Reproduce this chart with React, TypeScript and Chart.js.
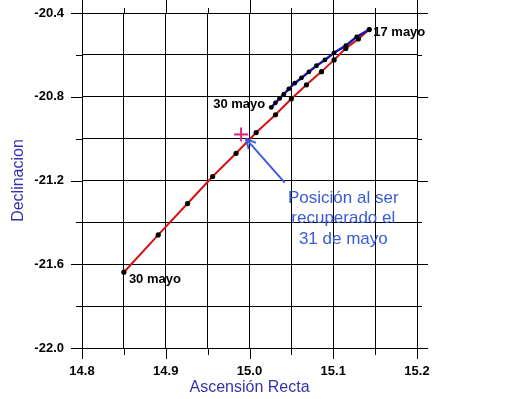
import React, { useEffect, useRef } from "react";
import { Chart, registerables } from "chart.js";

Chart.register(...registerables);

// Tick labels
const xTickLabels = ["14.8", "14.9", "15.0", "15.1", "15.2"];
const yTickLabels = ["-22.0", "-21.6", "-21.2", "-20.8", "-20.4"];

// Trajectory A (red), 17 mayo -> 30 mayo
const redRA = [15.143, 15.130, 15.115, 15.101, 15.086, 15.068, 15.050, 15.031, 15.008, 14.984, 14.956, 14.926, 14.891, 14.850];
const redDec = [-20.479, -20.524, -20.569, -20.624, -20.680, -20.743, -20.810, -20.886, -20.971, -21.070, -21.181, -21.310, -21.460, -21.638];

// Trajectory B (blue), 17 mayo -> 30 mayo
const blueRA = [15.143, 15.128, 15.115, 15.101, 15.090, 15.080, 15.071, 15.062, 15.054, 15.047, 15.041, 15.036, 15.031, 15.026];
const blueDec = [-20.479, -20.514, -20.556, -20.590, -20.624, -20.652, -20.681, -20.710, -20.735, -20.762, -20.788, -20.808, -20.829, -20.851];

// Recovery position (31 de mayo)
const recoveryRA = 14.990;
const recoveryDec = -20.98;
const arrowFrom = [15.042, -21.21];
const arrowTo = [14.9956, -21.0];
const noteAnchor = [15.112, -20.4];
const noteLines = ["Posición al ser", "recuperado el", "31 de mayo"];

const FONT = "'Liberation Sans', Arial, sans-serif";

export default function App() {
  const ref = useRef<HTMLCanvasElement>(null);

  useEffect(() => {
    document.body.style.margin = "0";
    const canvas = ref.current!;
    const extras = {
      id: "extras",
      afterDraw(chart: any) {
        const { ctx, chartArea, scales } = chart;
        const { left, right, top, bottom } = chartArea;
        const xs = scales.x;
        const ys = scales.y;
        ctx.save();
        ctx.strokeStyle = "#000";
        ctx.lineWidth = 1;
        const seg = (x1: number, y1: number, x2: number, y2: number) => {
          ctx.beginPath();
          ctx.moveTo(x1, y1);
          ctx.lineTo(x2, y2);
          ctx.stroke();
        };
        xs.ticks.forEach((t: any, i: number) => {
          const px = Math.round(xs.getPixelForValue(t.value)) + 0.5;
          const major = i % 2 === 0;
          seg(px, bottom, px, bottom + (major ? 11 : 7));
          seg(px, top, px, top - (major ? 13 : 5));
        });
        ys.ticks.forEach((t: any, i: number) => {
          const py = Math.round(ys.getPixelForValue(t.value)) + 0.5;
          const major = i % 2 === 0;
          seg(left - (major ? 11 : 6), py, left, py);
          seg(right, py, right + (major ? 11 : 5), py);
        });

        // date labels
        ctx.fillStyle = "#000";
        ctx.font = "bold 13px " + FONT;
        ctx.textBaseline = "middle";
        const p17x = xs.getPixelForValue(redRA[0]);
        const p17y = ys.getPixelForValue(redDec[0]);
        ctx.textAlign = "left";
        ctx.fillText("17 mayo", p17x + 4, p17y + 3);
        const pbx = xs.getPixelForValue(blueRA[blueRA.length - 1]);
        const pby = ys.getPixelForValue(blueDec[blueDec.length - 1]);
        ctx.textAlign = "right";
        ctx.fillText("30 mayo", pbx - 6, pby - 3);
        const prx = xs.getPixelForValue(redRA[redRA.length - 1]);
        const pry = ys.getPixelForValue(redDec[redDec.length - 1]);
        ctx.textAlign = "left";
        ctx.fillText("30 mayo", prx + 5, pry + 7.5);

        // recovery cross
        const cx = xs.getPixelForValue(recoveryRA);
        const cy = ys.getPixelForValue(recoveryDec);
        ctx.strokeStyle = "#e0207a";
        ctx.lineWidth = 2;
        seg(cx - 7, cy, cx + 7, cy);
        seg(cx, cy - 7, cx, cy + 7);

        // arrow
        const ax1 = xs.getPixelForValue(arrowFrom[0]);
        const ay1 = ys.getPixelForValue(arrowFrom[1]);
        const ax2 = xs.getPixelForValue(arrowTo[0]);
        const ay2 = ys.getPixelForValue(arrowTo[1]);
        ctx.strokeStyle = "#3a5de0";
        ctx.lineWidth = 2;
        seg(ax1, ay1, ax2, ay2);
        const ang = Math.atan2(ay2 - ay1, ax2 - ax1);
        const hl = 11;
        seg(ax2, ay2, ax2 - hl * Math.cos(ang - 0.45), ay2 - hl * Math.sin(ang - 0.45));
        seg(ax2, ay2, ax2 - hl * Math.cos(ang + 0.45), ay2 - hl * Math.sin(ang + 0.45));

        // note
        ctx.fillStyle = "#3a5bd9";
        ctx.font = "17px " + FONT;
        ctx.textAlign = "center";
        const nx = xs.getPixelForValue(noteAnchor[0]);
        noteLines.forEach((l, i) => {
          ctx.fillText(l, nx, 198 + i * 20.5);
        });
        ctx.restore();
      },
    };

    const chart = new Chart(canvas, {
      type: "scatter",
      data: {
        datasets: [
          {
            data: blueRA.map((x, i) => ({ x, y: blueDec[i] })),
            showLine: true,
            borderColor: "#1818a8",
            borderWidth: 2.5,
            pointRadius: 2.4,
            pointBackgroundColor: "#000",
            pointBorderColor: "#000",
            pointBorderWidth: 0,
          },
          {
            data: redRA.map((x, i) => ({ x, y: redDec[i] })),
            showLine: true,
            borderColor: "#d41010",
            borderWidth: 2,
            pointRadius: 2.6,
            pointBackgroundColor: "#000",
            pointBorderColor: "#000",
            pointBorderWidth: 0,
          },
        ],
      },
      options: {
        responsive: false,
        animation: false,
        devicePixelRatio: 1,
        layout: { padding: { top: 13, right: 98, left: 0, bottom: 0 } },
        plugins: { legend: { display: false }, tooltip: { enabled: false } },
        scales: {
          x: {
            type: "linear",
            min: 14.8,
            max: 15.2,
            ticks: {
              stepSize: 0.05,
              autoSkip: false,
              maxRotation: 0,
              padding: 16,
              color: "#000",
              font: { family: FONT, size: 13, weight: "bold" },
              callback: (_v: any, i: number) => (i % 2 === 0 ? xTickLabels[i / 2] : ""),
            },
            grid: { color: "#000", lineWidth: 1, drawTicks: false },
            border: { color: "#000" },
            title: {
              display: true,
              text: "Ascensión Recta",
              color: "#3333b0",
              font: { family: FONT, size: 16 },
              padding: { top: 0, bottom: 2 },
            },
            afterFit(s: any) {
              s.height = 51;
              s.paddingLeft = 0;
              s.paddingRight = 0;
            },
          },
          y: {
            type: "linear",
            min: -22.0,
            max: -20.4,
            ticks: {
              stepSize: 0.2,
              autoSkip: false,
              padding: 18,
              color: "#000",
              font: { family: FONT, size: 13, weight: "bold" },
              callback: (_v: any, i: number) => (i % 2 === 0 ? yTickLabels[i / 2] : ""),
            },
            grid: { color: "#000", lineWidth: 1, drawTicks: false },
            border: { color: "#000" },
            title: {
              display: true,
              text: "Declinacion",
              color: "#3333b0",
              font: { family: FONT, size: 16 },
              padding: { top: 9, bottom: 0 },
            },
            afterFit(s: any) {
              s.width = 82;
              s.paddingTop = 0;
              s.paddingBottom = 0;
            },
          },
        },
      },
      plugins: [extras],
    } as any);
    return () => chart.destroy();
  }, []);

  return <canvas ref={ref} width={515} height={399} style={{ display: "block" }} />;
}
